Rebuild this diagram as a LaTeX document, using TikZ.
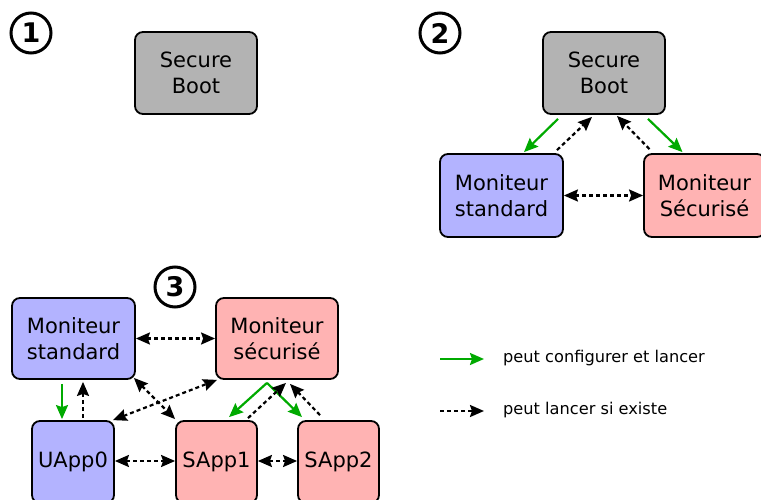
\documentclass[tikz,border=0pt]{standalone}
\usepackage{fontspec}
\setmainfont{DejaVu Sans}
\usetikzlibrary{arrows.meta,calc}
\definecolor{boxgray}{RGB}{179,179,179}
\definecolor{boxblue}{RGB}{179,179,255}
\definecolor{boxpink}{RGB}{255,179,179}
\definecolor{arrgreen}{RGB}{0,170,0}
\tikzset{
  box/.style={draw=black, line width=1.8pt, rounded corners=8pt, align=center,
    font=\fontsize{21}{26}\selectfont, inner sep=0pt},
  graybox/.style={box, fill=boxgray, minimum width=122pt, minimum height=82pt},
  bigbox/.style={box, minimum width=122pt, minimum height=82pt},
  appbox/.style={box, minimum width=81pt, minimum height=82pt},
  numcirc/.style={draw=black, circle, line width=3pt, minimum size=40pt, inner sep=0pt,
    font=\fontsize{27}{27}\selectfont\bfseries},
  green/.style={draw=arrgreen, line width=2.2pt, -{Stealth[length=14pt,width=12pt,inset=2pt]}},
  dsh/.style={draw=black, line width=2.2pt, dash pattern=on 4pt off 3pt},
  dto/.style={dsh, -{Stealth[length=14pt,width=12pt,inset=2pt]}},
  dboth/.style={dsh, {Stealth[length=14pt,width=12pt,inset=2pt]}-{Stealth[length=14pt,width=12pt,inset=2pt]}},
  legtext/.style={anchor=west, font=\fontsize{16.2}{19}\selectfont, inner sep=0pt}
}
\begin{document}
\begin{tikzpicture}[x=1pt,y=-1pt]
\useasboundingbox (0,0) rectangle (761,500);
\clip (0,0) rectangle (761,500);
% panel 1
\node[numcirc] (n1) at (31,33) {1};
\node[graybox] (sb1) at (196,73) {Secure\\Boot};
% panel 2
\node[numcirc] (n2) at (440,33) {2};
\node[graybox] (sb2) at (604,73) {Secure\\Boot};
\node[bigbox, fill=boxblue, minimum width=123pt, minimum height=83pt] (ms2) at (501.5,195.5) {Moniteur\\standard};
\node[bigbox, fill=boxpink, minimum width=121pt, minimum height=83pt] (msec2) at (704.5,195.5) {Moniteur\\Sécurisé};
\draw[green] ($(sb2.south)+(-46,4)$) -- ($(ms2.north)+(22.5,-1)$);
\draw[dto] ($(ms2.north)+(55.5,-3)$) -- ($(sb2.south)+(-12,2)$);
\draw[dto] ($(msec2.north)+(-55,-4)$) -- ($(sb2.south)+(13,1)$);
\draw[green] ($(sb2.south)+(44,4)$) -- ($(msec2.north)+(-22,-1)$);
\draw[dboth] (ms2.east) -- (msec2.west);
% panel 3
\node[numcirc] (n3) at (175,287) {3};
\node[bigbox, fill=boxblue, minimum width=123pt, minimum height=81pt] (ms3) at (73.5,338.5) {Moniteur\\standard};
\node[bigbox, fill=boxpink, minimum height=81pt] (msec3) at (277,338.5) {Moniteur\\sécurisé};
\node[appbox, fill=boxblue, minimum width=82pt] (uapp0) at (73,462) {UApp0};
\node[appbox, fill=boxpink] (sapp1) at (216.5,462) {SApp1};
\node[appbox, fill=boxpink] (sapp2) at (338.5,462) {SApp2};
\draw[green] ($(ms3.south)+(-11.5,4)$) -- ($(uapp0.north)+(-11,-1)$);
\draw[dto] ($(uapp0.north)+(10,-2)$) -- ($(ms3.south)+(9.5,2)$);
\draw[dboth] (ms3.east) -- (msec3.west);
\draw[dboth] ($(ms3.south east)+(-2,-2)$) -- ($(sapp1.north west)+(0,-1)$);
\draw[dboth] ($(uapp0.north east)+(-2,0)$) -- ($(msec3.south west)+(2,0)$);
\draw[green] ($(msec3.south)+(-10,3)$) -- ($(sapp1.north)+(12.5,-3)$);
\draw[green] ($(msec3.south)+(-10,3)$) -- ($(sapp2.north)+(-36.5,-3)$);
\draw[dto] ($(sapp1.north)+(31.5,-2)$) -- ($(msec3.south)+(9,3)$);
\draw[dto] ($(sapp2.north)+(-18.5,-5)$) -- ($(msec3.south)+(13,4)$);
\draw[dboth] (uapp0.east |- 0,461) -- (sapp1.west |- 0,461);
\draw[dboth] (sapp1.east |- 0,461) -- (sapp2.west |- 0,461);
% legend
\coordinate (lg1a) at (440,359);
\coordinate (lg1b) at (484,359);
\coordinate (lg2a) at (440,411);
\coordinate (lg2b) at (484,411);
\draw[green] (lg1a) -- (lg1b);
\draw[dto] (lg2a) -- (lg2b);
\node[legtext] (lt1) at (503,358) {peut configurer et lancer};
\node[legtext] (lt2) at (503,410) {peut lancer si existe};
\end{tikzpicture}
\end{document}
